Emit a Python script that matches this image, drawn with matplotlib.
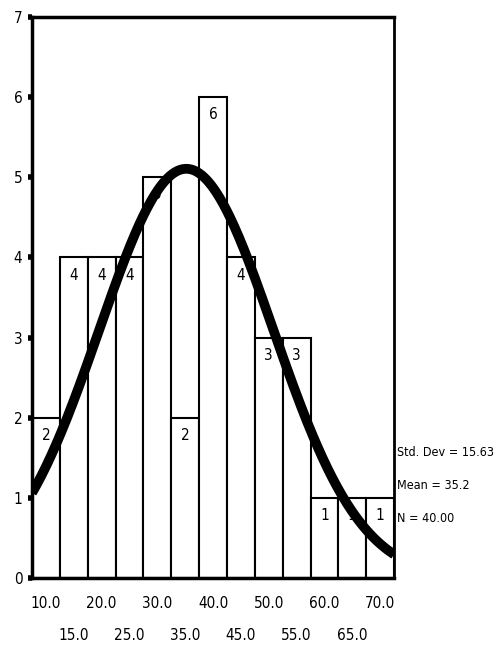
import numpy as np
import matplotlib
matplotlib.use('Agg')
import matplotlib.pyplot as plt

plt.rcParams['font.family'] = ['DejaVu Sans']
plt.rcParams['font.stretch'] = 'condensed'

# histogram data (bin midpoints, counts)
mids = [10.0, 15.0, 20.0, 25.0, 30.0, 35.0, 40.0, 45.0, 50.0, 55.0, 60.0, 65.0, 70.0]
counts = [2, 4, 4, 4, 5, 2, 6, 4, 3, 3, 1, 1, 1]
std_dev = 15.63
mean = 35.2
n = 40
width = 5.0

fig = plt.figure(figsize=(4.96, 6.46), dpi=100)
ax = fig.add_axes([0.0645, 0.105, 0.73, 0.869])

ax.bar(mids, counts, width=width, color='white', edgecolor='black', linewidth=1.5, zorder=2)
for x, c in zip(mids, counts):
    ax.text(x, c - 0.22, str(c), ha='center', va='center', fontsize=11, zorder=3)

# fitted normal curve scaled to counts
xs = np.linspace(mids[0] - width / 2, mids[-1] + width / 2, 300)
ys = n * width / (std_dev * np.sqrt(2 * np.pi)) * np.exp(-0.5 * ((xs - mean) / std_dev) ** 2)
ax.plot(xs, ys, color='black', linewidth=7, solid_capstyle='butt', zorder=4)

ax.set_xlim(mids[0] - width / 2, mids[-1] + width / 2)
ax.set_ylim(0, 7)
ax.set_yticks(range(8))
ax.tick_params(axis='y', direction='out', length=3, width=4, labelsize=11, pad=4)
ax.set_xticks(mids[::2])
ax.set_xticklabels(['%.1f' % m for m in mids[::2]])
ax.set_xticks(mids[1::2], minor=True)
ax.set_xticklabels(['%.1f' % m for m in mids[1::2]], minor=True)
ax.tick_params(axis='x', which='major', length=0, labelsize=11, pad=13)
ax.tick_params(axis='x', which='minor', length=0, labelsize=11, pad=36)
for s in ax.spines.values():
    s.set_linewidth(2.5)
    s.set_zorder(5)
ax.spines['right'].set_linewidth(2)

stats = ['Std. Dev = %.2f' % std_dev, 'Mean = %.1f' % mean, 'N = %.2f' % n]
for i, t in enumerate(stats):
    ax.text(1.007, 0.223 - i * 0.0585, t, transform=ax.transAxes, ha='left', va='center', fontsize=9)

fig.savefig('out.png', dpi=100)
